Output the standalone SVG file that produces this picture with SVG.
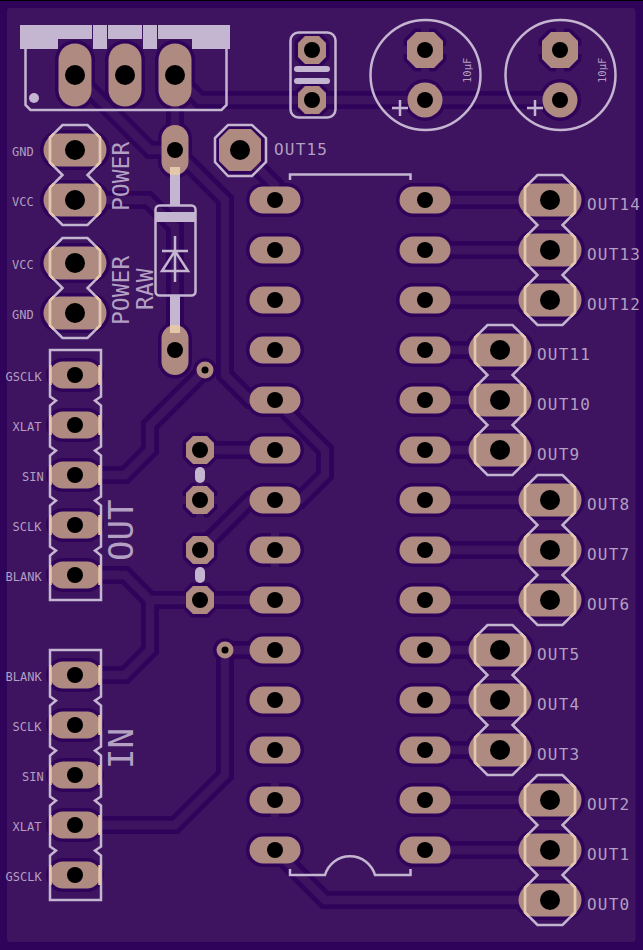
<svg xmlns="http://www.w3.org/2000/svg" width="643" height="950" viewBox="0 0 643 950">
<style>
.hl{fill:#30035a;stroke:#30035a;stroke-width:7;stroke-linejoin:round}
.pd{fill:#ae8a80}
.hole{fill:#000}
.silk{fill:none;stroke:#c4b5d0;stroke-width:2.5}
.silkf{fill:#c4b5d0}
.tan{fill:none;stroke:#e3c7a8;stroke-width:2.5}
.tanf{fill:#e3c7a8}
text{font-family:"DejaVu Sans Mono","Liberation Mono",monospace;fill:#c4b5d0;fill-opacity:.88}
.sm{font-size:12px}
.md{font-size:16px;letter-spacing:1.2px}
.lg{font-size:23px}
.xl{font-size:34px}
.tr{fill:none;stroke-linejoin:miter}
.spoke{fill:#3e1461}
</style>
<defs>
<rect id="s-h" x="-31.5" y="-16.5" width="63" height="33" rx="16.5"/>
<rect id="s-m" x="-25.5" y="-13.5" width="51" height="27" rx="13.5"/>
<rect id="s-v" x="-16.5" y="-31.5" width="33" height="63" rx="16.5"/>
<rect id="s-d" x="-13.5" y="-25" width="27" height="50" rx="13.5"/>
<polygon id="s-o" points="-7,-14 7,-14 14,-7 14,7 7,14 -7,14 -14,7 -14,-7"/>
<polygon id="s-b" points="-11,-21 11,-21 21,-11 21,11 11,21 -11,21 -21,11 -21,-11"/>
<polygon id="s-c" points="-9,-18 9,-18 18,-9 18,9 9,18 -9,18 -18,9 -18,-9"/>
<circle id="s-r" r="17.5"/>
<circle id="s-i" r="8.5"/>
<g id="p-h"><use href="#s-h" class="pd"/><circle class="hole" r="10"/></g>
<g id="p-m"><use href="#s-m" class="pd"/><circle class="hole" r="8"/></g>
<g id="p-v"><use href="#s-v" class="pd"/><circle class="hole" r="10"/></g>
<g id="p-d"><use href="#s-d" class="pd"/><circle class="hole" r="8"/></g>
<g id="p-o"><use href="#s-o" class="pd"/><circle class="hole" r="8"/></g>
<g id="p-c"><use href="#s-c" class="pd"/><circle class="hole" r="8"/></g>
<g id="p-r"><use href="#s-r" class="pd"/><circle class="hole" r="8"/></g>
<g id="p-i"><use href="#s-i" class="pd"/><circle class="hole" r="3.5"/></g>
<path id="tan" d="M-21,-16.5 L-25,-12.5 V12.5 L-21,16.5 M21,-16.5 L25,-12.5 V12.5 L21,16.5"/>
<path id="tanm" d="M-24.5,-10 V10 M24.5,-10 V10"/>
<path id="ch2" d="M-12.5,-25 h25 l12.5,12.5 v25 l-12.5,12.5 l12.5,12.5 v25 l-12.5,12.5 h-25 l-12.5,-12.5 v-25 l12.5,-12.5 l-12.5,-12.5 v-25 z"/>
<path id="ch3" d="M-12.5,-25 h25 l12.5,12.5 v25 l-12.5,12.5 l12.5,12.5 v25 l-12.5,12.5 l12.5,12.5 v25 l-12.5,12.5 h-25 l-12.5,-12.5 v-25 l12.5,-12.5 l-12.5,-12.5 v-25 l12.5,-12.5 l-12.5,-12.5 v-25 z"/>
<path id="hdr5" d="M-25,-25 H26 V21.5 L20,25.5 L26,30.5 V71.5 L20,75.5 L26,80.5 V121.5 L20,125.5 L26,130.5 V171.5 L20,175.5 L26,180.5 V225 H-25 V180.5 L-19,175.5 L-25,171.5 V130.5 L-19,125.5 L-25,121.5 V80.5 L-19,75.5 L-25,71.5 V30.5 L-19,25.5 L-25,21.5 Z"/>
<g id="traces">
<path d="M75,75 L150,150 H175"/>
<path d="M175,75 V150"/>
<path d="M175,150 L225,200 V375 L250,400 H275"/>
<path d="M175,75 L200,100 H560"/>
<path d="M75,200 H148 L175,227 V350"/>
<path d="M240,150 L275,185 V200"/>
<path d="M275,400 L325,450 V475 L300,500 H275"/>
<path d="M200,450 H275"/>
<path d="M200,550 L250,500 H275"/>
<path d="M100,575 H125 L150,600 H275"/>
<path d="M150,600 V650 L125,675 H100"/>
<path d="M100,475 H125 L150,450 V425 L205,370"/>
<path d="M225,650 H275"/>
<path d="M225,650 V775 L175,825 H100"/>
<path d="M275,850 L325,900 H550"/>
<path d="M425,200 H550 M425,250 H550 M425,300 H550 M425,350 H500 M425,400 H500 M425,450 H500 M425,500 H550 M425,550 H550 M425,600 H550 M425,650 H500 M425,700 H500 M425,750 H500 M425,800 H550 M425,850 H550"/>
</g>
</defs>

<rect width="643" height="950" fill="#30035a"/>
<rect x="0" y="0" width="643" height="1" fill="#000"/>
<rect id="board" x="7" y="8" width="628.500" height="934" rx="3" fill="#3e1461"/>

<g id="connectors">
<use href="#traces" class="tr" stroke="#30035a" stroke-width="18"/>
<g id="clearance" class="hl">
<use href="#s-v" x="75" y="75"/><use href="#s-v" x="125" y="75"/><use href="#s-v" x="175" y="75"/>
<use href="#s-h" x="75" y="150"/><use href="#s-h" x="75" y="200"/><use href="#s-h" x="75" y="263"/><use href="#s-h" x="75" y="313"/>
<use href="#s-d" x="175" y="150"/><use href="#s-d" x="175" y="350"/>
<use href="#s-b" x="240" y="150"/>
<use href="#s-o" x="312" y="50"/><use href="#s-o" x="312" y="100"/>
<use href="#s-c" x="425" y="50"/><use href="#s-r" x="425" y="100"/><use href="#s-c" x="560" y="50"/><use href="#s-r" x="560" y="100"/>
<use href="#s-i" x="205" y="370"/><use href="#s-i" x="225" y="650"/>
<use href="#s-o" x="200" y="450"/><use href="#s-o" x="200" y="500"/><use href="#s-o" x="200" y="550"/><use href="#s-o" x="200" y="600"/>
<use href="#s-m" x="75" y="375"/><use href="#s-m" x="75" y="425"/><use href="#s-m" x="75" y="475"/><use href="#s-m" x="75" y="525"/><use href="#s-m" x="75" y="575"/>
<use href="#s-m" x="75" y="675"/><use href="#s-m" x="75" y="725"/><use href="#s-m" x="75" y="775"/><use href="#s-m" x="75" y="825"/><use href="#s-m" x="75" y="875"/>
<use href="#s-m" x="275" y="200"/><use href="#s-m" x="275" y="250"/><use href="#s-m" x="275" y="300"/><use href="#s-m" x="275" y="350"/><use href="#s-m" x="275" y="400"/><use href="#s-m" x="275" y="450"/><use href="#s-m" x="275" y="500"/><use href="#s-m" x="275" y="550"/><use href="#s-m" x="275" y="600"/><use href="#s-m" x="275" y="650"/><use href="#s-m" x="275" y="700"/><use href="#s-m" x="275" y="750"/><use href="#s-m" x="275" y="800"/><use href="#s-m" x="275" y="850"/>
<use href="#s-m" x="425" y="200"/><use href="#s-m" x="425" y="250"/><use href="#s-m" x="425" y="300"/><use href="#s-m" x="425" y="350"/><use href="#s-m" x="425" y="400"/><use href="#s-m" x="425" y="450"/><use href="#s-m" x="425" y="500"/><use href="#s-m" x="425" y="550"/><use href="#s-m" x="425" y="600"/><use href="#s-m" x="425" y="650"/><use href="#s-m" x="425" y="700"/><use href="#s-m" x="425" y="750"/><use href="#s-m" x="425" y="800"/><use href="#s-m" x="425" y="850"/>
<use href="#s-h" x="550" y="200"/><use href="#s-h" x="550" y="250"/><use href="#s-h" x="550" y="300"/><use href="#s-h" x="500" y="350"/><use href="#s-h" x="500" y="400"/><use href="#s-h" x="500" y="450"/><use href="#s-h" x="550" y="500"/><use href="#s-h" x="550" y="550"/><use href="#s-h" x="550" y="600"/><use href="#s-h" x="500" y="650"/><use href="#s-h" x="500" y="700"/><use href="#s-h" x="500" y="750"/><use href="#s-h" x="550" y="800"/><use href="#s-h" x="550" y="850"/><use href="#s-h" x="550" y="900"/>
</g>
<g id="spokes" class="spoke">
<rect x="271" y="530" width="8" height="40"/><rect x="271" y="780" width="8" height="40"/>
<rect x="421" y="26" width="8" height="48"/><rect x="401" y="46" width="48" height="8"/>
<rect x="556" y="26" width="8" height="48"/><rect x="536" y="46" width="48" height="8"/>
<rect x="196" y="480" width="8" height="40"/><rect x="180" y="496" width="40" height="8"/>
</g>
<use href="#traces" class="tr" stroke="#3e1461" stroke-width="8.300"/>
</g>

<g id="node-supply-connector">
<use href="#p-v" x="75" y="75"/><use href="#p-v" x="125" y="75"/><use href="#p-v" x="175" y="75"/>
<path class="silkf" d="M20,25 H92 V39 H58 V49 H20 Z M93,25 H107 V49 H93 Z M108,25 H142 V39 H108 Z M143,25 H157 V49 H143 Z M158,25 H230 V49 H192 V39 H158 Z"/>
<path class="silk" d="M25.500,48 V105 L30.500,110 H221.500 L226.500,105 V48"/>
<circle class="silkf" cx="34" cy="98" r="5"/>
</g>

<g id="node-power">
<use href="#p-h" x="75" y="150"/><use href="#p-h" x="75" y="200"/>
<use href="#ch2" x="75" y="150" class="silk"/>
<use href="#tan" x="75" y="150" class="tan"/><use href="#tan" x="75" y="200" class="tan"/>
<text class="sm" x="12" y="156">GND</text><text class="sm" x="12" y="206">VCC</text>
<text class="lg" transform="translate(129,211) rotate(-90)">POWER</text>
</g>
<g id="node-power-raw">
<use href="#p-h" x="75" y="263"/><use href="#p-h" x="75" y="313"/>
<use href="#ch2" x="75" y="263" class="silk"/>
<use href="#tan" x="75" y="263" class="tan"/><use href="#tan" x="75" y="313" class="tan"/>
<text class="sm" x="12" y="269">VCC</text><text class="sm" x="12" y="319">GND</text>
<text class="lg" transform="translate(129,325) rotate(-90)">POWER</text>
<text class="lg" transform="translate(153,310) rotate(-90)">RAW</text>
</g>

<g id="node-diode">
<use href="#p-d" x="175" y="150"/><use href="#p-d" x="175" y="350"/>
<rect class="silkf" x="170" y="175" width="10" height="31"/><rect class="silkf" x="170" y="295" width="10" height="30"/>
<rect class="tanf" x="170" y="167" width="10" height="8"/><rect class="tanf" x="170" y="325" width="10" height="8"/>
<rect class="silk" x="155.500" y="205.500" width="40" height="90" rx="4"/>
<rect class="silkf" x="155.500" y="212" width="40" height="10"/>
<path class="silk" d="M175,236 V282 M162,251 H188 M175,251 L162,271 H188 Z"/>
</g>

<g id="node-out15">
<use href="#s-b" x="240" y="150" class="pd"/><circle class="hole" cx="240" cy="150" r="10"/>
<polygon class="silk" points="228,125 252,125 266,138 266,162 252,176 228,176 215,162 215,138"/>
<text class="md" x="274" y="155">OUT15</text>
</g>

<g id="node-jumper">
<use href="#p-o" x="312" y="50"/><use href="#p-o" x="312" y="100"/>
<rect class="silk" x="290.500" y="32.500" width="45" height="85" rx="8"/>
<path d="M297,69 H327 M297,81 H327" fill="none" stroke="#c4b5d0" stroke-width="6" stroke-linecap="round"/>
</g>

<g id="node-cap1">
<use href="#p-c" x="425" y="50"/><use href="#p-r" x="425" y="100"/>
<circle class="silk" cx="425.500" cy="75" r="55"/>
<path class="silk" d="M392,108 H408 M400,100 V116"/>
<text transform="translate(471,83) rotate(-90)" font-size="10.500">10µF</text>
</g>
<g id="node-cap2">
<use href="#p-c" x="560" y="50"/><use href="#p-r" x="560" y="100"/>
<circle class="silk" cx="560.500" cy="75" r="55"/>
<path class="silk" d="M527,108 H543 M535,100 V116"/>
<text transform="translate(606,83) rotate(-90)" font-size="10.500">10µF</text>
</g>

<g id="node-out-header">
<use href="#p-m" x="75" y="375"/><use href="#p-m" x="75" y="425"/><use href="#p-m" x="75" y="475"/><use href="#p-m" x="75" y="525"/><use href="#p-m" x="75" y="575"/>
<use href="#hdr5" x="75" y="375" class="silk"/>
<use href="#tanm" x="75" y="375" class="tan"/><use href="#tanm" x="75" y="425" class="tan"/><use href="#tanm" x="75" y="475" class="tan"/><use href="#tanm" x="75" y="525" class="tan"/><use href="#tanm" x="75" y="575" class="tan"/>
<text class="sm" x="5.500" y="381">GSCLK</text><text class="sm" x="12.500" y="431">XLAT</text><text class="sm" x="22" y="481">SIN</text><text class="sm" x="12.500" y="531">SCLK</text><text class="sm" x="5.500" y="581">BLANK</text>
<text class="xl" transform="translate(133,561) rotate(-90)">OUT</text>
</g>

<g id="node-in-header">
<use href="#p-m" x="75" y="675"/><use href="#p-m" x="75" y="725"/><use href="#p-m" x="75" y="775"/><use href="#p-m" x="75" y="825"/><use href="#p-m" x="75" y="875"/>
<use href="#hdr5" x="75" y="675" class="silk"/>
<use href="#tanm" x="75" y="675" class="tan"/><use href="#tanm" x="75" y="725" class="tan"/><use href="#tanm" x="75" y="775" class="tan"/><use href="#tanm" x="75" y="825" class="tan"/><use href="#tanm" x="75" y="875" class="tan"/>
<text class="sm" x="5.500" y="681">BLANK</text><text class="sm" x="12.500" y="731">SCLK</text><text class="sm" x="22" y="781">SIN</text><text class="sm" x="12.500" y="831">XLAT</text><text class="sm" x="5.500" y="881">GSCLK</text>
<text class="xl" transform="translate(133,769) rotate(-90)">IN</text>
</g>

<g id="node-test-points">
<use href="#p-o" x="200" y="450"/><use href="#p-o" x="200" y="500"/><use href="#p-o" x="200" y="550"/><use href="#p-o" x="200" y="600"/>
<rect class="silkf" x="195" y="467" width="10" height="16" rx="5"/><rect class="silkf" x="195" y="567" width="10" height="16" rx="5"/>
</g>
<g id="node-via1"><use href="#p-i" x="205" y="370"/></g>
<g id="node-via2"><use href="#p-i" x="225" y="650"/></g>

<g id="node-ic">
<use href="#p-m" x="275" y="200"/><use href="#p-m" x="275" y="250"/><use href="#p-m" x="275" y="300"/><use href="#p-m" x="275" y="350"/><use href="#p-m" x="275" y="400"/><use href="#p-m" x="275" y="450"/><use href="#p-m" x="275" y="500"/><use href="#p-m" x="275" y="550"/><use href="#p-m" x="275" y="600"/><use href="#p-m" x="275" y="650"/><use href="#p-m" x="275" y="700"/><use href="#p-m" x="275" y="750"/><use href="#p-m" x="275" y="800"/><use href="#p-m" x="275" y="850"/>
<use href="#p-m" x="425" y="200"/><use href="#p-m" x="425" y="250"/><use href="#p-m" x="425" y="300"/><use href="#p-m" x="425" y="350"/><use href="#p-m" x="425" y="400"/><use href="#p-m" x="425" y="450"/><use href="#p-m" x="425" y="500"/><use href="#p-m" x="425" y="550"/><use href="#p-m" x="425" y="600"/><use href="#p-m" x="425" y="650"/><use href="#p-m" x="425" y="700"/><use href="#p-m" x="425" y="750"/><use href="#p-m" x="425" y="800"/><use href="#p-m" x="425" y="850"/>
<path class="silk" d="M290,180 V174.500 H410.500 V180"/>
<path class="silk" d="M290,869 V875 H325 A26,26 0 0 1 375,875 H410.500 V869"/>
</g>

<g id="node-out14-12">
<use href="#p-h" x="550" y="200"/><use href="#p-h" x="550" y="250"/><use href="#p-h" x="550" y="300"/>
<use href="#ch3" x="550" y="200" class="silk"/>
<use href="#tan" x="550" y="200" class="tan"/><use href="#tan" x="550" y="250" class="tan"/><use href="#tan" x="550" y="300" class="tan"/>
<text class="md" x="587" y="209.500">OUT14</text><text class="md" x="587" y="259.500">OUT13</text><text class="md" x="587" y="309.500">OUT12</text>
</g>
<g id="node-out11-9">
<use href="#p-h" x="500" y="350"/><use href="#p-h" x="500" y="400"/><use href="#p-h" x="500" y="450"/>
<use href="#ch3" x="500" y="350" class="silk"/>
<use href="#tan" x="500" y="350" class="tan"/><use href="#tan" x="500" y="400" class="tan"/><use href="#tan" x="500" y="450" class="tan"/>
<text class="md" x="537" y="359.500">OUT11</text><text class="md" x="537" y="409.500">OUT10</text><text class="md" x="537" y="459.500">OUT9</text>
</g>
<g id="node-out8-6">
<use href="#p-h" x="550" y="500"/><use href="#p-h" x="550" y="550"/><use href="#p-h" x="550" y="600"/>
<use href="#ch3" x="550" y="500" class="silk"/>
<use href="#tan" x="550" y="500" class="tan"/><use href="#tan" x="550" y="550" class="tan"/><use href="#tan" x="550" y="600" class="tan"/>
<text class="md" x="587" y="509.500">OUT8</text><text class="md" x="587" y="559.500">OUT7</text><text class="md" x="587" y="609.500">OUT6</text>
</g>
<g id="node-out5-3">
<use href="#p-h" x="500" y="650"/><use href="#p-h" x="500" y="700"/><use href="#p-h" x="500" y="750"/>
<use href="#ch3" x="500" y="650" class="silk"/>
<use href="#tan" x="500" y="650" class="tan"/><use href="#tan" x="500" y="700" class="tan"/><use href="#tan" x="500" y="750" class="tan"/>
<text class="md" x="537" y="659.500">OUT5</text><text class="md" x="537" y="709.500">OUT4</text><text class="md" x="537" y="759.500">OUT3</text>
</g>
<g id="node-out2-0">
<use href="#p-h" x="550" y="800"/><use href="#p-h" x="550" y="850"/><use href="#p-h" x="550" y="900"/>
<use href="#ch3" x="550" y="800" class="silk"/>
<use href="#tan" x="550" y="800" class="tan"/><use href="#tan" x="550" y="850" class="tan"/><use href="#tan" x="550" y="900" class="tan"/>
<text class="md" x="587" y="809.500">OUT2</text><text class="md" x="587" y="859.500">OUT1</text><text class="md" x="587" y="909.500">OUT0</text>
</g>
</svg>
